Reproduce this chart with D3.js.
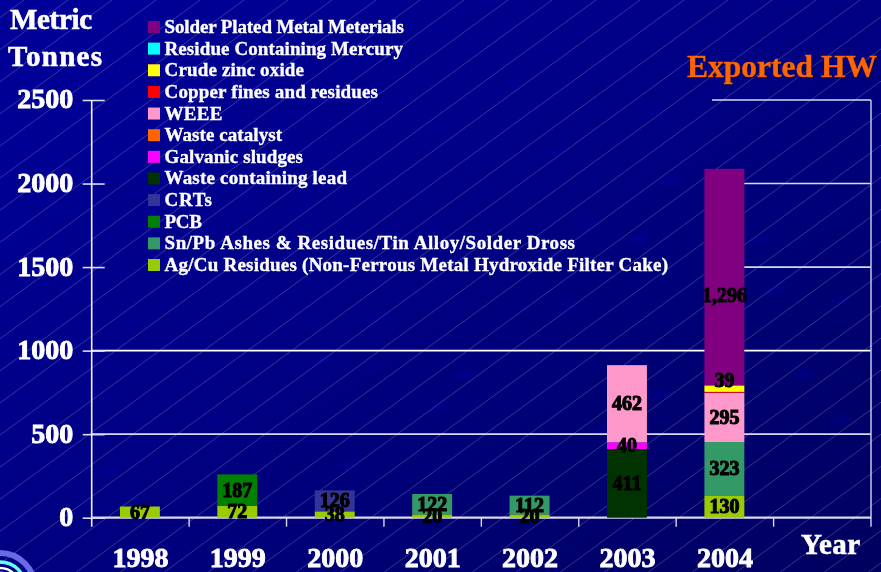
<!DOCTYPE html>
<html><head><meta charset="utf-8">
<script src="https://cdn.jsdelivr.net/npm/d3@7/dist/d3.min.js"></script>
<style>
html,body{margin:0;padding:0;background:#000080;overflow:hidden}
svg{display:block}
text{font-family:"Liberation Serif","Times New Roman",serif;font-weight:700}
</style></head><body>
<svg id="c" width="881" height="572"></svg>
<script>
const years = ["1998","1999","2000","2001","2002","2003","2004",""];
const seriesNames = ["Solder Plated Metal Meterials","Residue Containing Mercury","Crude zinc oxide","Copper fines and residues","WEEE","Waste catalyst","Galvanic sludges","Waste containing lead","CRTs","PCB","Sn/Pb Ashes & Residues/Tin Alloy/Solder Dross","Ag/Cu Residues (Non-Ferrous Metal Hydroxide Filter Cake)"];
const seriesColors = ["#800080","#00ffff","#ffff00","#ff0000","#ff99cc","#ff6600","#ff00ff","#003300","#333399","#008000","#339966","#99cc00"];
const solder   = [0,0,0,0,0,0,1296,0];
const mercury  = [0,0,0,0,0,0,0,0];
const zinc     = [0,0,0,0,0,0,39,0];
const copper   = [0,0,0,0,0,0,5,0];
const weee     = [0,0,0,0,0,462,295,0];
const catalyst = [0,0,0,0,0,0,0,0];
const galvanic = [0,0,0,0,0,40,0,0];
const lead     = [0,0,0,0,0,411,0,0];
const crts     = [0,0,126,0,0,0,0,0];
const pcb      = [0,187,0,0,0,0,0,0];
const snpb     = [0,0,0,122,112,0,323,0];
const agcu     = [67,72,38,20,20,0,130,0];
const yTicks = [0,500,1000,1500,2000,2500];
const seriesValues = [solder,mercury,zinc,copper,weee,catalyst,galvanic,lead,crts,pcb,snpb,agcu];
const unlabelled = new Set(["Copper fines and residues"]);
const labelNudge = {"Solder Plated Metal Meterials":18,"Crude zinc oxide":-8};

const svg = d3.select("#c");
const W=881,H=572;
const L=91.7,R=871,T=100,B=517.7;
const defs = svg.append("defs");
const g = defs.append("linearGradient").attr("id","bg").attr("x1",0).attr("y1",0).attr("x2",1).attr("y2",1);
[[0,"#00009a"],[0.45,"#000086"],[1,"#000060"]].forEach(s=>g.append("stop").attr("offset",s[0]).attr("stop-color",s[1]));
const blur = defs.append("filter").attr("id","soft"); blur.append("feGaussianBlur").attr("stdDeviation",2);
svg.append("rect").attr("width",W).attr("height",H).attr("fill","url(#bg)");

// mottled background blobs
const blobs=[[427,128],[380,317],[322,360],[435,408],[350,465],[640,238],[520,268],[465,375],[570,305],[590,225],[760,240],[775,290],[660,395],[805,375],[840,420],[840,300],[600,430],[110,470],[560,150],[670,180],[300,210],[215,420],[515,85],[655,110]];
svg.append("g").attr("filter","url(#soft)").selectAll("ellipse").data(blobs).join("ellipse")
  .attr("cx",d=>d[0]).attr("cy",d=>d[1]).attr("rx",11).attr("ry",4).attr("fill","#0000a0").attr("opacity",.4)
  .attr("transform",d=>`rotate(-15 ${d[0]} ${d[1]})`);

// diagonal hairlines
const hair=svg.append("g").attr("stroke","#ffffff").attr("stroke-opacity",.3).attr("stroke-width",.7);
const run=H/0.73;
for(let c=-20;c<W+run;c+=44){hair.append("line").attr("x1",c-run).attr("y1",H).attr("x2",c).attr("y2",0);}

// swirl logo, corner decoration
const swirl=svg.append("g").attr("fill","none");
[[35,"#6a6ae6",6],[26,"#66ffff",3.5],[20,"#ffffff",2.5],[15,"#66ffff",3]].forEach(a=>swirl.append("circle").attr("cx",0).attr("cy",588).attr("r",a[0]).attr("stroke",a[1]).attr("stroke-width",a[2]));

const x=d3.scaleBand().domain(years).range([L,R]).paddingInner(.59).paddingOuter(.295);
const y=d3.scaleLinear().domain([0,2500]).range([B,T]);
const lineColor="#d9d9f2";

// grid: the upper lines stop at the legend box
const legendRight=712;
svg.append("g").selectAll("line").data(yTicks.filter(v=>v>0)).join("line")
  .attr("x1",v=>v>=1500?legendRight:L).attr("x2",R)
  .attr("y1",v=>y(v)).attr("y2",v=>y(v)).attr("stroke",v=>v%1000==0&&v!=2000?"#ffffff":lineColor).attr("stroke-width",1.6);

// axes
const yAxis=svg.append("g").attr("transform",`translate(${L},0)`).call(d3.axisLeft(y).tickValues(yTicks).tickSize(9).tickFormat(d=>d));
yAxis.select(".domain").remove();
yAxis.selectAll(".tick line").attr("stroke",lineColor).attr("stroke-width",1.6);
yAxis.selectAll(".tick").append("line").attr("x2",13).attr("stroke",lineColor).attr("stroke-width",1.6);
yAxis.selectAll("text").attr("x",-18.5).attr("y",-1.6).attr("dy",".34em").attr("fill","#fff").attr("stroke","#fff").attr("stroke-width",.9).style("font-size","28px").style("font-family",'"Liberation Serif",serif').style("font-weight",700);
svg.append("line").attr("x1",L).attr("x2",L).attr("y1",T).attr("y2",B+9).attr("stroke","#f0f0ff").attr("stroke-width",1.6);
svg.append("line").attr("x1",R).attr("x2",R).attr("y1",T).attr("y2",B+9).attr("stroke","#b9b9e0").attr("stroke-width",1.6);
svg.append("line").attr("x1",L).attr("x2",R).attr("y1",B).attr("y2",B).attr("stroke",lineColor).attr("stroke-width",2.2);

const step=x.step();
svg.append("g").selectAll("line").data(years.slice(0,-1)).join("line")
  .attr("x1",d=>x(d)+x.bandwidth()/2+step/2).attr("x2",d=>x(d)+x.bandwidth()/2+step/2)
  .attr("y1",B).attr("y2",B+9).attr("stroke",lineColor).attr("stroke-width",1.4);
svg.append("g").selectAll("text").data(years.slice(0,-1)).join("text")
  .attr("x",d=>x(d)+x.bandwidth()/2).attr("y",566.5).attr("text-anchor","middle").attr("fill","#fff").attr("stroke","#fff").attr("stroke-width",.9).style("font-size","28px").text(d=>d);

// stacked bars (bottom series is last in the legend)
const table=years.map((yr,i)=>{const o={year:yr};seriesNames.forEach((n,k)=>o[n]=seriesValues[k][i]);return o;});
const stack=d3.stack().keys(seriesNames.slice().reverse())(table);
const colorOf=d3.scaleOrdinal().domain(seriesNames).range(seriesColors);
svg.append("g").selectAll("g").data(stack).join("g").attr("fill",s=>colorOf(s.key))
  .selectAll("rect").data(s=>s.filter(d=>d[1]>d[0])).join("rect")
  .attr("x",d=>x(d.data.year)-.5).attr("width",x.bandwidth())
  .attr("y",d=>y(d[1])).attr("height",d=>y(d[0])-y(d[1]));
const fmt=d3.format(",");
svg.append("g").selectAll("g").data(stack.filter(s=>!unlabelled.has(s.key))).join("g")
  .selectAll("text").data(s=>s.filter(d=>d[1]>d[0]).map(d=>({d,key:s.key}))).join("text")
  .attr("x",o=>x(o.d.data.year)+x.bandwidth()/2-.5).attr("y",o=>(y(o.d[0])+y(o.d[1]))/2+(labelNudge[o.key]||0)+6.5)
  .attr("text-anchor","middle").attr("fill","#000").attr("stroke","#000").attr("stroke-width",1.1).style("font-size","20px")
  .text(o=>fmt(o.d[1]-o.d[0]));

// legend (text runs are fitted to the reference's measured ends)
const legendEnds=[404,403,304,378,222.5,282,303,347,212,202,575,668];
const ly=d3.scalePoint().domain(seriesNames).range([27,265]);
const lg=svg.append("g");
lg.selectAll("rect").data(seriesNames).join("rect").attr("x",148).attr("width",12).attr("height",12)
  .attr("y",d=>ly(d)-6).attr("fill",d=>colorOf(d));
lg.selectAll("text").data(seriesNames).join("text").attr("x",164.5).attr("y",d=>ly(d)+6).attr("fill","#fff").attr("stroke","#fff").attr("stroke-width",.35)
  .attr("textLength",(d,i)=>legendEnds[i]-164.5).attr("lengthAdjust","spacing")
  .style("font-size","19px").text(d=>d);

// titles
const big=(t,xx,yy,size,len)=>svg.append("text").attr("x",xx).attr("y",yy).attr("fill","#fff").attr("stroke","#fff").attr("stroke-width",.6).attr("textLength",len).attr("lengthAdjust","spacing").style("font-size",size+"px").text(t);
big("Metric",10,28.5,29,82);
big("Tonnes",8,66,29,94);
big("Year",801,554,29,59);
svg.append("text").attr("x",687).attr("y",77).attr("fill","#ff6600").attr("stroke","#ff6600").attr("stroke-width",.4).attr("textLength",190).attr("lengthAdjust","spacingAndGlyphs").style("font-size","32px").style("filter","drop-shadow(1px 1px 0 #000040)").text("Exported HW");
</script></body></html>
